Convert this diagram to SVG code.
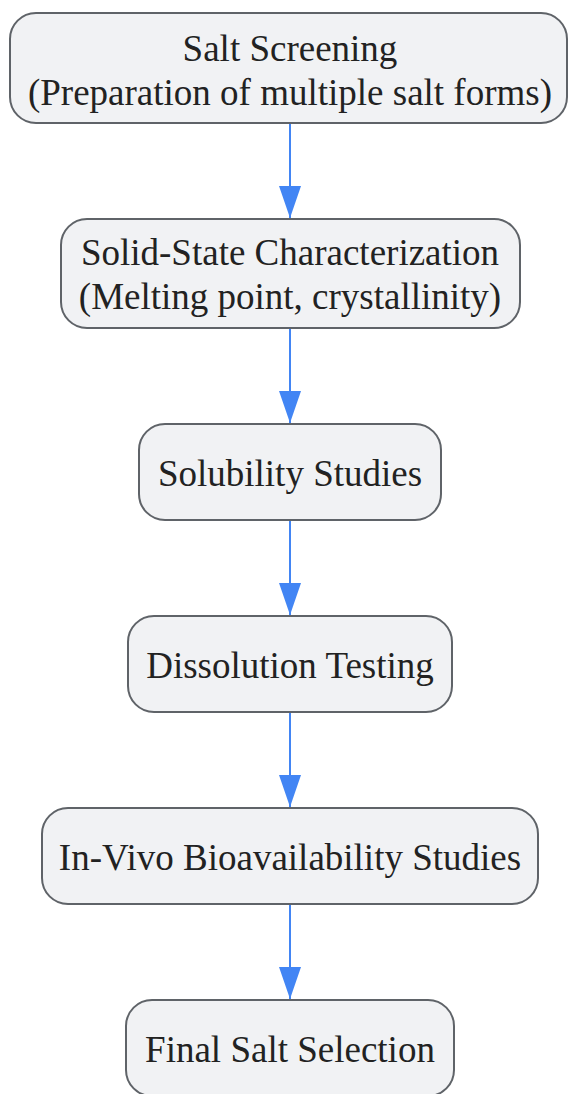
<svg xmlns="http://www.w3.org/2000/svg" width="569" height="1094" viewBox="0 0 569 1094">
<style>
.n{fill:#f1f2f4;stroke:#5f6368;stroke-width:2}
.t{font-family:"Liberation Serif","Times New Roman",serif;font-size:37px;fill:#222;text-anchor:middle}
.e{stroke:#4285f4;stroke-width:2;fill:none}
</style>
<defs>
<marker id="a" viewBox="0 0 32 22" refX="32" refY="11" markerWidth="32" markerHeight="22" markerUnits="userSpaceOnUse" orient="auto">
<path d="M0,0 L32,11 L0,22 Z" fill="#4285f4"/>
</marker>
</defs>
<g id="edges">
<path class="e" d="M290,123 V218" marker-end="url(#a)"/>
<path class="e" d="M290,328 V423" marker-end="url(#a)"/>
<path class="e" d="M290,520 V615" marker-end="url(#a)"/>
<path class="e" d="M290,712 V807" marker-end="url(#a)"/>
<path class="e" d="M290,904 V999" marker-end="url(#a)"/>
</g>
<g id="n1"><rect class="n" x="10" y="13" width="557" height="110" rx="26"/>
<text class="t" x="290" y="61">Salt Screening</text>
<text class="t" x="290" y="105">(Preparation of multiple salt forms)</text></g>
<g id="n2"><rect class="n" x="61" y="219" width="459" height="109" rx="26"/>
<text class="t" x="290" y="265">Solid-State Characterization</text>
<text class="t" x="290" y="309">(Melting point, crystallinity)</text></g>
<g id="n3"><rect class="n" x="139" y="424" width="302" height="96" rx="26"/>
<text class="t" x="290" y="486">Solubility Studies</text></g>
<g id="n4"><rect class="n" x="128" y="616" width="324" height="96" rx="26"/>
<text class="t" x="290" y="678">Dissolution Testing</text></g>
<g id="n5"><rect class="n" x="42" y="808" width="496" height="96" rx="26"/>
<text class="t" x="290" y="870">In-Vivo Bioavailability Studies</text></g>
<g id="n6"><rect class="n" x="126" y="1000" width="328" height="96" rx="26"/>
<text class="t" x="290" y="1062">Final Salt Selection</text></g>
</svg>
